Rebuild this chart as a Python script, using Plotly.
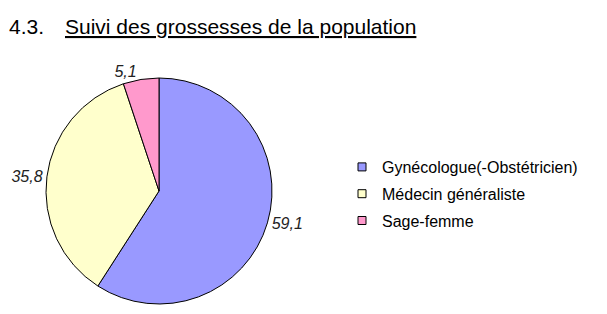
import plotly.graph_objects as go

categories = ["Gynécologue(-Obstétricien)", "Médecin généraliste", "Sage-femme"]
values = [59.1, 35.8, 5.1]
colors = ["#9999FF", "#FFFFCC", "#FF99CC"]
title_num = "4.3."
title_text = "Suivi des grossesses de la population"

W, H = 607, 314
FONT = "Liberation Sans, Arial, sans-serif"

fig = go.Figure()
fig.add_trace(go.Pie(
    labels=categories, values=values, sort=False, direction="clockwise", rotation=0,
    marker=dict(colors=colors, line=dict(color="black", width=1)),
    texttemplate="%{value:.1f}", textposition="outside",
    textfont=dict(family=FONT, size=16, color="#222", style="italic"),
    domain=dict(x=[46 / W, 272 / W], y=[10 / H, 236 / H]),
    showlegend=False, hoverinfo="skip",
))
for i, (c, col) in enumerate(zip(categories, colors)):
    fig.add_trace(go.Scatter(
        x=[None], y=[None], mode="markers", name=c, legendgroup=c,
        marker=dict(symbol="square", size=8, color=col, line=dict(color="black", width=1)),
    ))

fig.add_annotation(text=title_num, xref="paper", yref="paper", x=7 / W, y=1 - 27 / H,
                   xanchor="left", yanchor="middle", showarrow=False,
                   font=dict(family=FONT, size=21, color="black"))
fig.add_annotation(text="<u>" + title_text + "</u>", xref="paper", yref="paper", x=63 / W, y=1 - 27 / H,
                   xanchor="left", yanchor="middle", showarrow=False,
                   font=dict(family=FONT, size=21, color="black"))

fig.update_layout(
    width=W, height=H, margin=dict(l=0, r=0, t=0, b=0),
    paper_bgcolor="white", plot_bgcolor="white",
    separators=", ",
    xaxis=dict(visible=False), yaxis=dict(visible=False),
    legend=dict(x=342 / W, y=1 - 194 / H, xanchor="left", yanchor="middle",
                font=dict(family=FONT, size=16, color="black"),
                tracegroupgap=3, bgcolor="rgba(0,0,0,0)"),
)
fig.write_html("out.html")
